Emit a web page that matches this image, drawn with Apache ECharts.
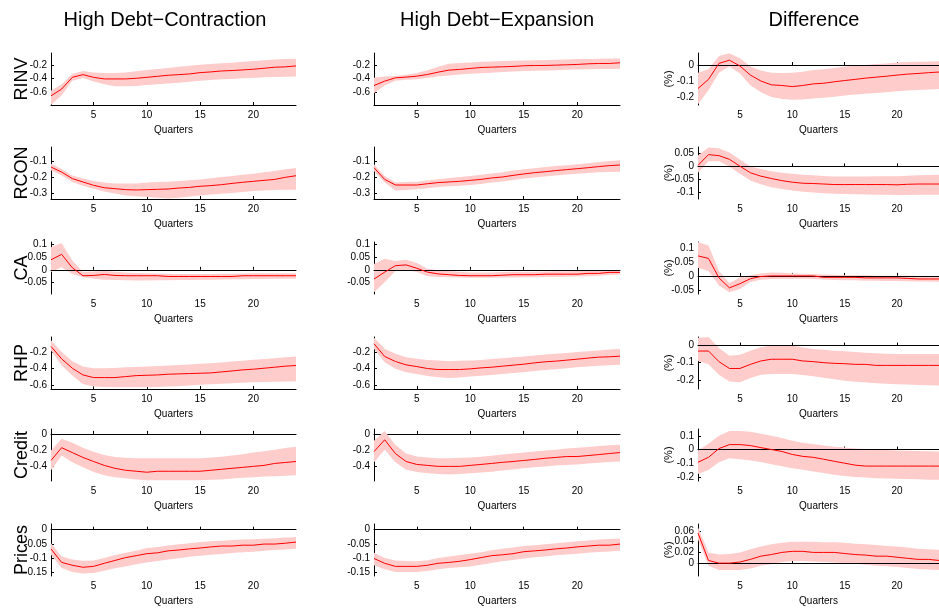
<!DOCTYPE html>
<html>
<head>
<meta charset="utf-8">
<script src="https://cdn.jsdelivr.net/npm/echarts@6/dist/echarts.min.js"></script>
<style>
html, body { margin: 0; padding: 0; background: #fff; }
#chart { width: 939px; height: 611px; }
</style>
</head>
<body>
<div id="chart"></div>
<script>
// Horizon (quarters after the shock)
const quarters = [1,2,3,4,5,6,7,8,9,10,11,12,13,14,15,16,17,18,19,20,21,22,23,24];

const columnTitles = ['High Debt\u2212Contraction', 'High Debt\u2212Expansion', 'Difference'];
const variableNames = ['RINV', 'RCON', 'CA', 'RHP', 'Credit', 'Prices'];

// ---- RINV ----
const rinvContraction    = [-0.648,-0.55,-0.381,-0.342,-0.381,-0.404,-0.404,-0.404,-0.395,-0.381,-0.366,-0.351,-0.342,-0.332,-0.313,-0.303,-0.289,-0.283,-0.274,-0.264,-0.25,-0.235,-0.23,-0.216];
const rinvContractionHi  = [-0.575,-0.48,-0.333,-0.29,-0.31,-0.32,-0.32,-0.31,-0.295,-0.274,-0.26,-0.245,-0.23,-0.215,-0.2,-0.19,-0.178,-0.17,-0.158,-0.146,-0.135,-0.125,-0.118,-0.112];
const rinvContractionLo  = [-0.78,-0.64,-0.43,-0.39,-0.44,-0.48,-0.51,-0.51,-0.505,-0.49,-0.48,-0.47,-0.46,-0.445,-0.43,-0.42,-0.41,-0.405,-0.395,-0.39,-0.38,-0.375,-0.372,-0.37];
const rinvExpansion      = [-0.499,-0.436,-0.388,-0.378,-0.364,-0.34,-0.306,-0.277,-0.267,-0.253,-0.239,-0.234,-0.229,-0.224,-0.214,-0.21,-0.21,-0.205,-0.2,-0.195,-0.186,-0.181,-0.181,-0.171];
const rinvExpansionHi    = [-0.388,-0.37,-0.36,-0.345,-0.32,-0.28,-0.23,-0.186,-0.176,-0.166,-0.158,-0.152,-0.147,-0.142,-0.137,-0.133,-0.13,-0.127,-0.122,-0.118,-0.115,-0.112,-0.11,-0.108];
const rinvExpansionLo    = [-0.61,-0.5,-0.43,-0.415,-0.41,-0.39,-0.37,-0.354,-0.34,-0.33,-0.322,-0.315,-0.305,-0.298,-0.29,-0.285,-0.282,-0.278,-0.272,-0.267,-0.264,-0.261,-0.26,-0.258];
const rinvDifference     = [-0.147,-0.09,0.01,0.03,-0.006,-0.063,-0.1,-0.124,-0.128,-0.135,-0.128,-0.118,-0.114,-0.105,-0.097,-0.09,-0.082,-0.076,-0.07,-0.063,-0.057,-0.053,-0.048,-0.044];
const rinvDifferenceHi   = [-0.048,-0.027,0.057,0.074,0.042,-0.01,-0.035,-0.048,-0.05,-0.048,-0.042,-0.032,-0.026,-0.018,-0.01,-0.004,0.0,0.006,0.01,0.015,0.018,0.02,0.022,0.023];
const rinvDifferenceLo   = [-0.246,-0.158,-0.048,-0.01,-0.053,-0.126,-0.17,-0.2,-0.212,-0.217,-0.215,-0.21,-0.205,-0.198,-0.19,-0.185,-0.18,-0.175,-0.17,-0.164,-0.16,-0.156,-0.153,-0.15];

// ---- RCON ----
const rconContraction    = [-0.138,-0.169,-0.21,-0.231,-0.252,-0.267,-0.273,-0.279,-0.281,-0.279,-0.277,-0.275,-0.269,-0.265,-0.258,-0.254,-0.248,-0.24,-0.233,-0.227,-0.221,-0.215,-0.202,-0.192];
const rconContractionHi  = [-0.117,-0.15,-0.19,-0.21,-0.225,-0.235,-0.24,-0.24,-0.24,-0.235,-0.232,-0.23,-0.225,-0.22,-0.215,-0.208,-0.2,-0.193,-0.186,-0.179,-0.17,-0.162,-0.152,-0.144];
const rconContractionLo  = [-0.158,-0.19,-0.231,-0.255,-0.273,-0.29,-0.303,-0.315,-0.32,-0.325,-0.33,-0.335,-0.33,-0.322,-0.315,-0.31,-0.305,-0.3,-0.294,-0.288,-0.285,-0.282,-0.28,-0.279];
const rconExpansion      = [-0.142,-0.215,-0.25,-0.25,-0.25,-0.242,-0.235,-0.231,-0.227,-0.221,-0.215,-0.206,-0.2,-0.19,-0.181,-0.173,-0.167,-0.16,-0.154,-0.148,-0.142,-0.135,-0.129,-0.125];
const rconExpansionHi    = [-0.121,-0.194,-0.235,-0.232,-0.229,-0.222,-0.214,-0.207,-0.2,-0.194,-0.186,-0.178,-0.17,-0.16,-0.152,-0.145,-0.138,-0.132,-0.126,-0.121,-0.114,-0.106,-0.1,-0.096];
const rconExpansionLo    = [-0.163,-0.235,-0.285,-0.282,-0.277,-0.27,-0.262,-0.258,-0.254,-0.25,-0.243,-0.235,-0.228,-0.218,-0.21,-0.203,-0.197,-0.19,-0.185,-0.179,-0.175,-0.171,-0.169,-0.167];
const rconDifference     = [0.004,0.045,0.041,0.027,0.001,-0.024,-0.037,-0.046,-0.054,-0.06,-0.064,-0.065,-0.067,-0.069,-0.069,-0.069,-0.069,-0.069,-0.069,-0.07,-0.068,-0.067,-0.067,-0.067];
const rconDifferenceHi   = [0.042,0.072,0.069,0.053,0.026,0.0,-0.01,-0.018,-0.024,-0.028,-0.032,-0.034,-0.036,-0.038,-0.038,-0.038,-0.038,-0.037,-0.037,-0.037,-0.035,-0.034,-0.033,-0.032];
const rconDifferenceLo   = [-0.024,0.02,0.02,0.0,-0.028,-0.054,-0.068,-0.079,-0.086,-0.092,-0.096,-0.099,-0.102,-0.104,-0.105,-0.106,-0.107,-0.108,-0.108,-0.109,-0.109,-0.108,-0.108,-0.108];

// ---- CA ----
const caContraction      = [0.039,0.06,0.008,-0.023,-0.022,-0.018,-0.022,-0.023,-0.023,-0.023,-0.023,-0.026,-0.026,-0.026,-0.026,-0.026,-0.026,-0.026,-0.023,-0.023,-0.023,-0.023,-0.023,-0.023];
const caContractionHi    = [0.088,0.104,0.036,-0.009,-0.007,-0.005,-0.008,-0.01,-0.012,-0.013,-0.014,-0.015,-0.016,-0.016,-0.016,-0.016,-0.015,-0.015,-0.014,-0.013,-0.013,-0.013,-0.013,-0.013];
const caContractionLo    = [-0.009,0.01,-0.016,-0.029,-0.035,-0.039,-0.04,-0.041,-0.042,-0.042,-0.041,-0.041,-0.04,-0.04,-0.039,-0.039,-0.038,-0.037,-0.037,-0.036,-0.036,-0.035,-0.035,-0.035];
const caExpansion        = [-0.036,-0.009,0.016,0.019,0.006,-0.009,-0.016,-0.019,-0.022,-0.023,-0.023,-0.023,-0.021,-0.019,-0.019,-0.019,-0.017,-0.017,-0.017,-0.017,-0.014,-0.014,-0.01,-0.01];
const caExpansionHi      = [0.023,0.043,0.034,0.039,0.026,0.004,-0.002,-0.005,-0.008,-0.01,-0.01,-0.01,-0.009,-0.008,-0.008,-0.008,-0.007,-0.006,-0.006,-0.005,-0.004,-0.004,-0.003,-0.003];
const caExpansionLo      = [-0.087,-0.048,-0.005,0.0,-0.009,-0.025,-0.028,-0.029,-0.03,-0.031,-0.031,-0.031,-0.03,-0.03,-0.029,-0.029,-0.028,-0.028,-0.027,-0.026,-0.025,-0.023,-0.02,-0.018];
const caDifference       = [0.072,0.063,-0.007,-0.043,-0.028,-0.01,-0.002,0.0,0.0,0.0,0.0,0.0,-0.005,-0.005,-0.005,-0.005,-0.007,-0.007,-0.007,-0.007,-0.009,-0.011,-0.011,-0.011];
const caDifferenceHi     = [0.122,0.109,0.018,-0.026,-0.006,0.002,0.009,0.012,0.011,0.009,0.008,0.007,0.005,0.004,0.002,0.002,0.002,0.001,0.001,0.001,0.001,0.0,0.0,0.0];
const caDifferenceLo     = [0.029,0.018,-0.034,-0.059,-0.047,-0.022,-0.014,-0.011,-0.01,-0.01,-0.01,-0.011,-0.013,-0.015,-0.016,-0.016,-0.017,-0.017,-0.018,-0.018,-0.019,-0.02,-0.02,-0.021];

// ---- RHP ----
const rhpContraction     = [-0.131,-0.282,-0.396,-0.478,-0.51,-0.51,-0.51,-0.498,-0.486,-0.482,-0.478,-0.469,-0.465,-0.461,-0.457,-0.453,-0.441,-0.429,-0.416,-0.408,-0.396,-0.384,-0.371,-0.363];
const rhpContractionHi   = [-0.057,-0.2,-0.31,-0.376,-0.396,-0.395,-0.392,-0.385,-0.38,-0.376,-0.37,-0.363,-0.358,-0.35,-0.343,-0.335,-0.325,-0.315,-0.305,-0.294,-0.284,-0.274,-0.262,-0.253];
const rhpContractionLo   = [-0.18,-0.363,-0.486,-0.588,-0.62,-0.626,-0.629,-0.629,-0.629,-0.629,-0.625,-0.62,-0.615,-0.605,-0.596,-0.59,-0.585,-0.578,-0.572,-0.567,-0.563,-0.56,-0.557,-0.555];
const rhpExpansion       = [-0.098,-0.253,-0.314,-0.355,-0.376,-0.4,-0.412,-0.412,-0.412,-0.404,-0.392,-0.384,-0.371,-0.359,-0.347,-0.331,-0.318,-0.31,-0.298,-0.286,-0.273,-0.261,-0.257,-0.249];
const rhpExpansionHi     = [-0.024,-0.159,-0.22,-0.261,-0.282,-0.295,-0.302,-0.31,-0.305,-0.302,-0.295,-0.285,-0.275,-0.264,-0.253,-0.24,-0.23,-0.22,-0.21,-0.2,-0.19,-0.18,-0.168,-0.159];
const rhpExpansionLo     = [-0.159,-0.322,-0.404,-0.445,-0.465,-0.49,-0.506,-0.514,-0.51,-0.498,-0.488,-0.478,-0.466,-0.455,-0.445,-0.43,-0.418,-0.408,-0.396,-0.384,-0.374,-0.366,-0.36,-0.355];
const rhpDifference      = [-0.032,-0.032,-0.094,-0.134,-0.134,-0.11,-0.09,-0.08,-0.08,-0.08,-0.09,-0.094,-0.1,-0.104,-0.106,-0.11,-0.11,-0.116,-0.116,-0.116,-0.116,-0.116,-0.116,-0.116];
const rhpDifferenceHi    = [0.046,0.05,-0.014,-0.06,-0.054,-0.03,-0.01,0.0,0.0,0.0,-0.012,-0.02,-0.025,-0.03,-0.034,-0.038,-0.042,-0.045,-0.048,-0.05,-0.05,-0.05,-0.05,-0.05];
const rhpDifferenceLo    = [-0.09,-0.11,-0.17,-0.21,-0.214,-0.19,-0.17,-0.166,-0.166,-0.166,-0.172,-0.18,-0.188,-0.197,-0.206,-0.212,-0.216,-0.22,-0.223,-0.226,-0.228,-0.23,-0.232,-0.234];

// ---- Credit ----
const creditContraction   = [-0.327,-0.17,-0.23,-0.29,-0.34,-0.388,-0.424,-0.448,-0.46,-0.472,-0.46,-0.46,-0.46,-0.46,-0.46,-0.448,-0.436,-0.424,-0.412,-0.4,-0.388,-0.364,-0.352,-0.34];
const creditContractionHi = [-0.206,-0.06,-0.11,-0.17,-0.22,-0.26,-0.285,-0.295,-0.3,-0.3,-0.3,-0.3,-0.3,-0.3,-0.3,-0.29,-0.28,-0.265,-0.25,-0.23,-0.215,-0.195,-0.175,-0.158];
const creditContractionLo = [-0.448,-0.267,-0.35,-0.41,-0.47,-0.51,-0.535,-0.545,-0.56,-0.57,-0.57,-0.57,-0.57,-0.57,-0.57,-0.565,-0.56,-0.55,-0.54,-0.533,-0.525,-0.52,-0.515,-0.51];
const creditExpansion     = [-0.218,-0.073,-0.242,-0.34,-0.376,-0.388,-0.4,-0.4,-0.4,-0.388,-0.376,-0.364,-0.35,-0.34,-0.327,-0.315,-0.3,-0.29,-0.279,-0.279,-0.267,-0.255,-0.242,-0.23];
const creditExpansionHi   = [-0.085,0.036,-0.133,-0.24,-0.279,-0.29,-0.3,-0.3,-0.295,-0.29,-0.28,-0.27,-0.255,-0.243,-0.23,-0.218,-0.205,-0.195,-0.18,-0.17,-0.16,-0.15,-0.14,-0.133];
const creditExpansionLo   = [-0.35,-0.194,-0.35,-0.44,-0.47,-0.485,-0.495,-0.5,-0.495,-0.485,-0.475,-0.465,-0.45,-0.438,-0.424,-0.412,-0.4,-0.39,-0.383,-0.376,-0.366,-0.355,-0.347,-0.34];
const creditDifference    = [-0.093,-0.057,0.007,0.036,0.036,0.029,0.014,0.0,-0.014,-0.036,-0.05,-0.057,-0.071,-0.086,-0.1,-0.114,-0.121,-0.121,-0.121,-0.121,-0.121,-0.121,-0.121,-0.121];
const creditDifferenceHi  = [-0.007,0.043,0.1,0.136,0.136,0.129,0.115,0.1,0.085,0.064,0.05,0.04,0.03,0.02,0.014,0.008,0.003,0.0,-0.003,-0.007,-0.009,-0.011,-0.013,-0.014];
const creditDifferenceLo  = [-0.179,-0.15,-0.093,-0.064,-0.071,-0.08,-0.092,-0.107,-0.122,-0.136,-0.148,-0.16,-0.172,-0.184,-0.193,-0.2,-0.205,-0.209,-0.212,-0.214,-0.216,-0.218,-0.22,-0.221];

// ---- Prices ----
const pricesContraction   = [-0.068,-0.116,-0.126,-0.133,-0.13,-0.119,-0.109,-0.099,-0.092,-0.085,-0.082,-0.075,-0.072,-0.068,-0.065,-0.061,-0.058,-0.058,-0.055,-0.055,-0.051,-0.051,-0.048,-0.044];
const pricesContractionHi = [-0.048,-0.095,-0.106,-0.11,-0.109,-0.1,-0.09,-0.082,-0.075,-0.065,-0.061,-0.056,-0.052,-0.048,-0.044,-0.041,-0.039,-0.037,-0.035,-0.034,-0.032,-0.03,-0.028,-0.027];
const pricesContractionLo = [-0.089,-0.136,-0.15,-0.155,-0.153,-0.145,-0.137,-0.13,-0.122,-0.116,-0.111,-0.106,-0.101,-0.096,-0.092,-0.089,-0.086,-0.083,-0.08,-0.078,-0.075,-0.072,-0.07,-0.068];
const pricesExpansion     = [-0.102,-0.119,-0.13,-0.13,-0.13,-0.126,-0.119,-0.116,-0.112,-0.106,-0.099,-0.092,-0.089,-0.085,-0.078,-0.075,-0.072,-0.068,-0.065,-0.061,-0.058,-0.055,-0.055,-0.051];
const pricesExpansionHi   = [-0.082,-0.1,-0.109,-0.111,-0.112,-0.108,-0.1,-0.095,-0.09,-0.085,-0.08,-0.073,-0.068,-0.063,-0.058,-0.055,-0.052,-0.048,-0.045,-0.041,-0.038,-0.035,-0.033,-0.031];
const pricesExpansionLo   = [-0.126,-0.14,-0.15,-0.15,-0.15,-0.146,-0.14,-0.136,-0.133,-0.13,-0.124,-0.118,-0.112,-0.107,-0.102,-0.098,-0.095,-0.091,-0.088,-0.085,-0.082,-0.079,-0.077,-0.075];
const pricesDifference    = [0.056,0.005,0.0,0.0,0.002,0.007,0.013,0.016,0.02,0.022,0.022,0.02,0.02,0.02,0.018,0.016,0.015,0.013,0.013,0.011,0.009,0.007,0.007,0.005];
const pricesDifferenceHi  = [0.067,0.02,0.016,0.017,0.02,0.026,0.031,0.035,0.038,0.04,0.04,0.04,0.039,0.039,0.038,0.036,0.035,0.034,0.032,0.031,0.029,0.027,0.026,0.025];
const pricesDifferenceLo  = [0.044,-0.005,-0.013,-0.013,-0.013,-0.01,-0.005,-0.002,0.002,0.004,0.004,0.003,0.002,0.001,0.0,-0.001,-0.003,-0.005,-0.006,-0.007,-0.009,-0.011,-0.012,-0.013];

// Y tick labels per panel
const ticksRinv       = [-0.6, -0.4, -0.2];
const ticksRinvDiff   = [-0.2, -0.1, 0];
const ticksRcon       = [-0.3, -0.2, -0.1];
const ticksRconDiff   = [-0.1, -0.05, 0, 0.05];
const ticksCa         = [-0.05, 0, 0.05, 0.1];
const ticksRhp        = [-0.6, -0.4, -0.2];
const ticksRhpDiff    = [-0.2, -0.1, 0];
const ticksCredit     = [-0.4, -0.2, 0];
const ticksCreditDiff = [-0.2, -0.1, 0, 0.1];
const ticksPrices     = [-0.15, -0.1, -0.05, 0];
const ticksPricesDiff = [0, 0.02, 0.04, 0.06];
const xTickLabels     = [5, 10, 15, 20];

// Panels: [row][col] -> mean, band, y-range, ticks, zero reference line
const panels = [
  [
    { mean: rinvContraction, lo: rinvContractionLo, hi: rinvContractionHi, min: -0.78, max: -0.03, ticks: ticksRinv, zero: false },
    { mean: rinvExpansion, lo: rinvExpansionLo, hi: rinvExpansionHi, min: -0.78, max: -0.03, ticks: ticksRinv, zero: false },
    { mean: rinvDifference, lo: rinvDifferenceLo, hi: rinvDifferenceHi, min: -0.25, max: 0.075, ticks: ticksRinvDiff, zero: true }
  ],
  [
    { mean: rconContraction, lo: rconContractionLo, hi: rconContractionHi, min: -0.3375, max: -0.0125, ticks: ticksRcon, zero: false },
    { mean: rconExpansion, lo: rconExpansionLo, hi: rconExpansionHi, min: -0.3375, max: -0.0125, ticks: ticksRcon, zero: false },
    { mean: rconDifference, lo: rconDifferenceLo, hi: rconDifferenceHi, min: -0.124, max: 0.074, ticks: ticksRconDiff, zero: true }
  ],
  [
    { mean: caContraction, lo: caContractionLo, hi: caContractionHi, min: -0.094, max: 0.108, ticks: ticksCa, zero: true },
    { mean: caExpansion, lo: caExpansionLo, hi: caExpansionHi, min: -0.094, max: 0.108, ticks: ticksCa, zero: true },
    { mean: caDifference, lo: caDifferenceLo, hi: caDifferenceHi, min: -0.065, max: 0.122, ticks: ticksCa, zero: true }
  ],
  [
    { mean: rhpContraction, lo: rhpContractionLo, hi: rhpContractionHi, min: -0.649, max: -0.016, ticks: ticksRhp, zero: false },
    { mean: rhpExpansion, lo: rhpExpansionLo, hi: rhpExpansionHi, min: -0.649, max: -0.016, ticks: ticksRhp, zero: false },
    { mean: rhpDifference, lo: rhpDifferenceLo, hi: rhpDifferenceHi, min: -0.254, max: 0.05, ticks: ticksRhpDiff, zero: true }
  ],
  [
    { mean: creditContraction, lo: creditContractionLo, hi: creditContractionHi, min: -0.58, max: 0.06, ticks: ticksCredit, zero: false },
    { mean: creditExpansion, lo: creditExpansionLo, hi: creditExpansionHi, min: -0.58, max: 0.06, ticks: ticksCredit, zero: false },
    { mean: creditDifference, lo: creditDifferenceLo, hi: creditDifferenceHi, min: -0.23, max: 0.15, ticks: ticksCreditDiff, zero: true }
  ],
  [
    { mean: pricesContraction, lo: pricesContractionLo, hi: pricesContractionHi, min: -0.164, max: 0.02, ticks: ticksPrices, zero: false },
    { mean: pricesExpansion, lo: pricesExpansionLo, hi: pricesExpansionHi, min: -0.164, max: 0.02, ticks: ticksPrices, zero: false },
    { mean: pricesDifference, lo: pricesDifferenceLo, hi: pricesDifferenceHi, min: -0.024, max: 0.073, ticks: ticksPricesDiff, zero: true }
  ]
];

// Layout of the 6x3 grid of subplots (pixels)
const colLeft = [51, 374, 698];
const colWidth = [245, 246, 245];
const colTitleX = [160, 492, 809];
const rowTop = [53, 147, 242, 337, 429, 524];
const rowHeight = 52;

const FONT = "'Liberation Sans', Arial, Helvetica, sans-serif";
const BAND_COLOR = '#ffcccc';
const LINE_COLOR = '#ff0000';

const grids = [], xAxes = [], yAxes = [], series = [];

panels.forEach((row, r) => {
  row.forEach((p, c) => {
    const i = grids.length;
    grids.push({ left: colLeft[c], top: rowTop[r], width: colWidth[c], height: rowHeight, containLabel: false });

    xAxes.push({
      type: 'category',
      gridIndex: i,
      data: quarters,
      boundaryGap: false,
      axisLine: { show: true, lineStyle: { color: '#000', width: 1 } },
      axisTick: {
        show: true, inside: true, length: 3,
        interval: (idx) => xTickLabels.includes(quarters[idx]),
        lineStyle: { color: '#000' }
      },
      axisLabel: {
        interval: (idx) => xTickLabels.includes(quarters[idx]),
        color: '#000', fontSize: 10, margin: 5, fontFamily: FONT
      },
      splitLine: { show: false },
      name: 'Quarters',
      nameLocation: 'middle',
      nameGap: 20,
      nameMoveOverlap: false,
      nameTextStyle: { color: '#000', fontSize: 10, fontFamily: FONT }
    });

    const yName = c === 0 ? variableNames[r] : (c === 2 ? '(%)' : '');
    yAxes.push({
      type: 'value',
      gridIndex: i,
      min: p.min,
      max: p.max,
      axisLine: { show: true, onZero: false, lineStyle: { color: '#000', width: 1 } },
      axisTick: { show: true, inside: true, length: 3, customValues: p.ticks, lineStyle: { color: '#000' } },
      axisLabel: { customValues: p.ticks, color: '#000', fontSize: 10, margin: 4, fontFamily: FONT },
      splitLine: { show: false },
      name: yName,
      nameLocation: 'middle',
      nameRotate: 90,
      nameGap: c === 0 ? 20 : 24,
      nameMoveOverlap: false,
      nameTextStyle: c === 0
        ? { color: '#000', fontSize: 18, fontFamily: FONT }
        : { color: '#000', fontSize: 11, fontFamily: FONT }
    });

    const stackId = 'band' + i;
    // Confidence band: transparent lower bound + stacked width filled in pink
    series.push({
      type: 'line', xAxisIndex: i, yAxisIndex: i,
      data: p.lo, stack: stackId, stackStrategy: 'all',
      symbol: 'none', silent: true,
      lineStyle: { opacity: 0 }, z: 1
    });
    series.push({
      type: 'line', xAxisIndex: i, yAxisIndex: i,
      data: p.hi.map((h, k) => h - p.lo[k]), stack: stackId, stackStrategy: 'all',
      symbol: 'none', silent: true,
      lineStyle: { opacity: 0 },
      areaStyle: { color: BAND_COLOR, opacity: 1 }, z: 1
    });
    // Point estimate
    const meanSeries = {
      type: 'line', xAxisIndex: i, yAxisIndex: i,
      data: p.mean, symbol: 'none', silent: true,
      lineStyle: { color: LINE_COLOR, width: 1 }, z: 3
    };
    if (p.zero) {
      meanSeries.markLine = {
        silent: true, symbol: ['none', 'none'], label: { show: false },
        lineStyle: { color: '#000', width: 1, type: 'solid' },
        data: [{ yAxis: 0 }], z: 2
      };
    }
    series.push(meanSeries);
  });
});

const titles = columnTitles.map((t, c) => ({
  text: t,
  left: colTitleX[c],
  top: 5,
  textAlign: 'center',
  textStyle: { color: '#000', fontSize: 20, fontWeight: 'normal', fontFamily: FONT }
}));

const chart = echarts.init(document.getElementById('chart'), null, { renderer: 'canvas' });
chart.setOption({
  animation: false,
  backgroundColor: '#fff',
  textStyle: { fontFamily: FONT },
  title: titles,
  grid: grids,
  xAxis: xAxes,
  yAxis: yAxes,
  series: series
});
</script>
</body>
</html>
